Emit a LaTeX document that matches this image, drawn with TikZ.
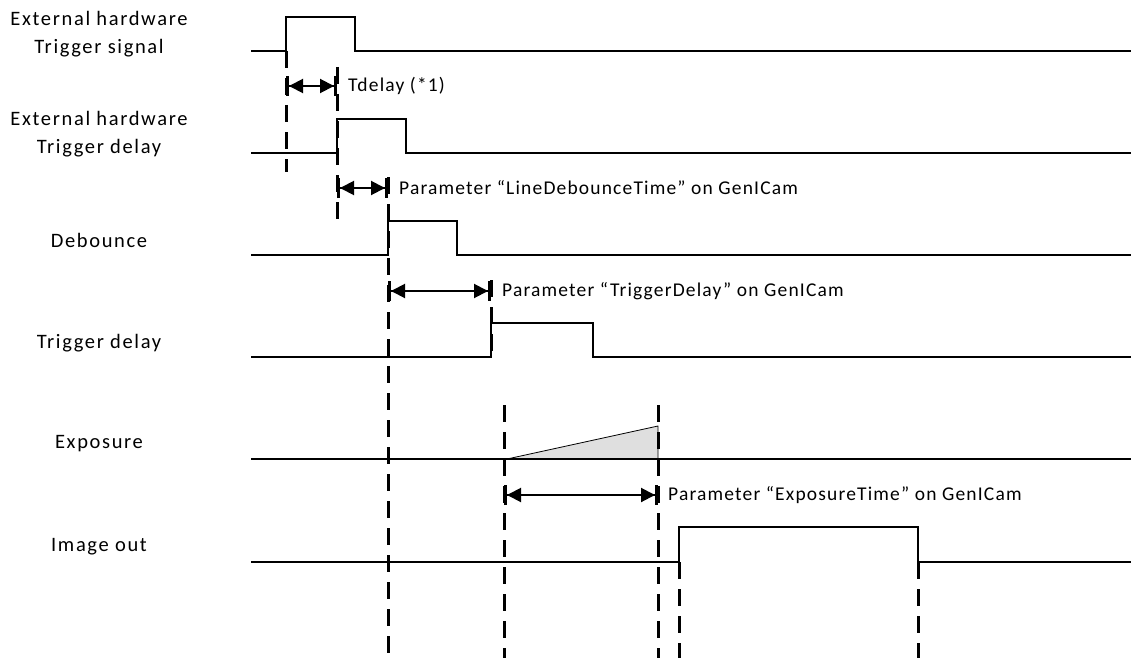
\documentclass[tikz,border=0pt]{standalone}
\usepackage{fontspec}
\setmainfont{Carlito}
\newfontfamily\labfont[LetterSpace=8]{Carlito}
\newfontfamily\txtfont[LetterSpace=6]{Carlito}
\usetikzlibrary{arrows.meta}
\begin{document}
\begin{tikzpicture}[x=1pt,y=-1pt,
  sig/.style={line width=2pt, line join=miter},
  vdash/.style={line width=3pt, dash pattern=on 17pt off 10pt},
  meas/.style={line width=2pt, {Bar[width=20pt,line width=3pt]Triangle[length=14pt,width=14pt]}-{Triangle[length=14pt,width=14pt]Bar[width=20pt,line width=3pt]}},
  lab/.style={font=\labfont\fontsize{20.5}{28}\selectfont, align=center, inner sep=0pt},
  txt/.style={font=\txtfont\fontsize{19.5}{24}\selectfont, anchor=west, inner sep=0pt}]
\useasboundingbox (0,0) rectangle (1131,658);

% labels
\node[lab] (l1) at (99,34) {External hardware\\Trigger signal};
\node[lab] (l2) at (99,134) {External hardware\\Trigger delay};
\node[lab] (l3) at (99,240) {Debounce};
\node[lab] (l4) at (99,343) {Trigger delay};
\node[lab] (l5) at (99,444) {Exposure};
\node[lab] (l6) at (99,547) {Image out};

% exposure ramp
\filldraw[fill=gray!25, line width=0.8pt] (507,459) -- (658,426) -- (658,459) -- cycle;

% signals
\draw[sig] (251,51) -- (286,51) -- (286,17) -- (355,17) -- (355,51) -- (1131,51);
\draw[sig] (251,153) -- (337,153) -- (337,119) -- (406,119) -- (406,153) -- (1131,153);
\draw[sig] (251,255) -- (388,255) -- (388,221) -- (457,221) -- (457,255) -- (1131,255);
\draw[sig] (251,357) -- (491,357) -- (491,323) -- (593,323) -- (593,357) -- (1131,357);
\draw[sig] (251,459) -- (1131,459);
\draw[sig] (251,562) -- (679,562) -- (679,527) -- (918,527) -- (918,562) -- (1131,562);

% dashed markers
\draw[vdash] (286,51) -- (286,172);
\draw[vdash] (337,67) -- (337,228);
\draw[vdash] (388,177) -- (388,658);
\draw[vdash] (491,280) -- (491,357);
\draw[vdash] (504,405) -- (504,658);
\draw[vdash] (658,405) -- (658,658);
\draw[vdash] (679,562) -- (679,658);
\draw[vdash] (918,562) -- (918,658);

% measurement coordinates
\coordinate (a1s) at (286,86);  \coordinate (a1e) at (337,86);
\coordinate (a2s) at (337,188); \coordinate (a2e) at (388,188);
\coordinate (a3s) at (388,291); \coordinate (a3e) at (491,291);
\coordinate (a4s) at (504,495); \coordinate (a4e) at (658,495);

\draw[meas] (a1s) -- (a1e);
\draw[meas] (a2s) -- (a2e);
\draw[meas] (a3s) -- (a3e);
\draw[meas] (a4s) -- (a4e);

\node[txt] (t1) at (348,86) {Tdelay (*1)};
\node[txt] (t2) at (399,188) {Parameter “LineDebounceTime” on GenICam};
\node[txt] (t3) at (502,291) {Parameter “TriggerDelay” on GenICam};
\node[txt] (t4) at (668,495) {Parameter “ExposureTime” on GenICam};
\end{tikzpicture}
\end{document}
